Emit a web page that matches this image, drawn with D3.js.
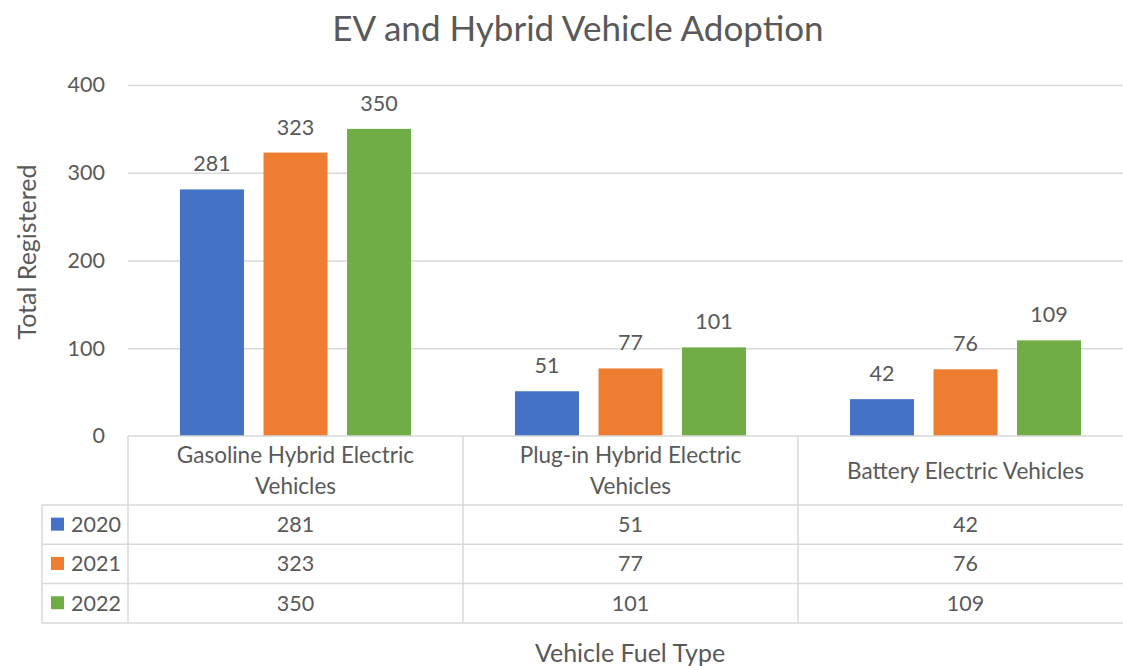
<!DOCTYPE html>
<html>
<head>
<meta charset="utf-8">
<script src="https://cdn.jsdelivr.net/npm/d3@7"></script>
<style>
  html, body { margin: 0; padding: 0; background: #fff; }
  svg { display: block; font-family: Lato, "Open Sans", sans-serif; }
</style>
</head>
<body>
<svg id="chart" width="1123" height="666"></svg>
<script>
const CATEGORIES = [
  ['Gasoline Hybrid Electric', 'Vehicles'],
  ['Plug-in Hybrid Electric', 'Vehicles'],
  ['Battery Electric Vehicles'],
];
const CAT_KEYS = ['gas', 'phev', 'bev'];
const YEARS = ['2020', '2021', '2022'];
const V2020 = [281, 51, 42];
const V2021 = [323, 77, 76];
const V2022 = [350, 101, 109];
const Y_TICKS = [0, 100, 200, 300, 400];

const COLORS = ['#4472C4', '#ED7D31', '#70AD47'];
const TEXT = '#595959';
const GRID = '#d9d9d9';
const FS = 21.5;

const series = YEARS.map((year, i) => ({
  year,
  color: COLORS[i],
  values: [V2020, V2021, V2022][i],
}));

const svg = d3.select('#chart');

const plot = { left: 128, right: 1133, top: 85, bottom: 436 };
const table = { left: 42, header: 505, rowH: 39.3 };

const x0 = d3.scaleBand().domain(CAT_KEYS).range([plot.left, plot.right]).padding(0);
const groupW = 231;
const x1 = d3.scaleBand().domain(YEARS)
  .range([(x0.bandwidth() - groupW) / 2, (x0.bandwidth() + groupW) / 2])
  .paddingInner(0.234).paddingOuter(0);
const y = d3.scaleLinear().domain([0, 400]).range([plot.bottom, plot.top]);

// title
svg.append('text')
  .attr('x', 578)
  .attr('y', 41)
  .attr('text-anchor', 'middle')
  .attr('fill', TEXT)
  .attr('font-size', 35)
  .text('EV and Hybrid Vehicle Adoption');

// gridlines
svg.append('g')
  .attr('transform', `translate(${plot.left},0)`)
  .call(d3.axisLeft(y).tickValues(Y_TICKS.slice(1)).tickSize(-(plot.right - plot.left)).tickFormat(''))
  .call(a => a.select('.domain').remove())
  .call(a => a.selectAll('line').attr('stroke', GRID).attr('stroke-width', 1.3));

// y tick labels
svg.append('g')
  .attr('transform', `translate(${plot.left},0)`)
  .call(d3.axisLeft(y).tickValues(Y_TICKS).tickSize(0).tickPadding(23))
  .call(a => a.select('.domain').remove())
  .call(a => a.selectAll('text')
    .attr('fill', TEXT)
    .attr('font-size', FS)
    .attr('font-family', 'Lato, sans-serif'));

svg.append('text')
  .attr('transform', 'translate(36,252) rotate(-90)')
  .attr('text-anchor', 'middle')
  .attr('fill', TEXT)
  .attr('font-size', 25)
  .text('Total Registered');

// bars
const groups = svg.selectAll('g.cat').data(CAT_KEYS).join('g')
  .attr('class', 'cat')
  .attr('transform', d => `translate(${x0(d)},0)`);

series.forEach(s => {
  groups.append('rect')
    .attr('x', x1(s.year))
    .attr('width', x1.bandwidth())
    .attr('y', (d, i) => y(s.values[i]))
    .attr('height', (d, i) => y(0) - y(s.values[i]))
    .attr('fill', s.color);
  groups.append('text')
    .attr('x', x1(s.year) + x1.bandwidth() / 2)
    .attr('y', (d, i) => y(s.values[i]) - 18)
    .attr('text-anchor', 'middle')
    .attr('fill', TEXT)
    .attr('font-size', FS)
    .text((d, i) => s.values[i]);
});

// data table
const tableBottom = table.header + table.rowH * YEARS.length;
const lines = svg.append('g').attr('stroke', GRID).attr('stroke-width', 1.5);

lines.append('line')
  .attr('x1', plot.left).attr('x2', plot.right)
  .attr('y1', plot.bottom).attr('y2', plot.bottom);
d3.range(YEARS.length + 1).forEach(i => {
  const yy = table.header + i * table.rowH;
  lines.append('line')
    .attr('x1', table.left).attr('x2', plot.right)
    .attr('y1', yy).attr('y2', yy);
});
lines.append('line')
  .attr('x1', table.left).attr('x2', table.left)
  .attr('y1', table.header).attr('y2', tableBottom);
CAT_KEYS.forEach(k => {
  lines.append('line')
    .attr('x1', x0(k)).attr('x2', x0(k))
    .attr('y1', plot.bottom).attr('y2', tableBottom);
});

// header labels
groups.each(function (d, i) {
  const lbl = CATEGORIES[i];
  const cy = (plot.bottom + table.header) / 2;
  const lh = 31;
  d3.select(this).append('text')
    .attr('text-anchor', 'middle')
    .attr('fill', TEXT)
    .attr('font-size', 22.5)
    .selectAll('tspan').data(lbl).join('tspan')
    .attr('x', x0.bandwidth() / 2)
    .attr('y', (t, j) => cy + 8 + (j - (lbl.length - 1) / 2) * lh)
    .text(t => t);
});

// rows
series.forEach((s, r) => {
  const cy = table.header + (r + 0.5) * table.rowH;
  svg.append('rect')
    .attr('x', 51).attr('y', cy - 7)
    .attr('width', 13).attr('height', 13)
    .attr('fill', s.color);
  svg.append('text')
    .attr('x', 71).attr('y', cy + 7.5)
    .attr('fill', TEXT)
    .attr('font-size', FS)
    .text(s.year);
  groups.append('text')
    .attr('x', x0.bandwidth() / 2)
    .attr('y', cy + 7.5)
    .attr('text-anchor', 'middle')
    .attr('fill', TEXT)
    .attr('font-size', FS)
    .text((d, i) => s.values[i]);
});

svg.append('text')
  .attr('x', 630)
  .attr('y', 662)
  .attr('text-anchor', 'middle')
  .attr('fill', TEXT)
  .attr('font-size', 25)
  .text('Vehicle Fuel Type');
</script>
</body>
</html>
